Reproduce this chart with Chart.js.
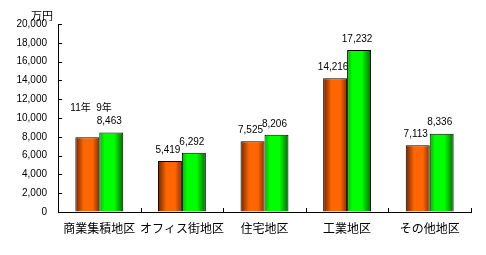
<!DOCTYPE html>
<html lang="ja">
<head>
  <meta charset="UTF-8" />
  <title>地区別</title>
  <script src="https://cdn.jsdelivr.net/npm/chart.js"></script>
  <style>
    html, body { margin: 0; padding: 0; background: #fff; }
    #wrap { width: 486px; height: 255px; }
  </style>
</head>
<body>
  <div id="wrap"><canvas id="grafico"></canvas></div>

  <script>
    const categorias = ['商業集積地区', 'オフィス街地区', '住宅地区', '工業地区', 'その他地区'];
    const series = ['11年', '9年'];
    const valores11 = [7950, 5419, 7525, 14216, 7113];
    const valores9 = [8463, 6292, 8206, 17232, 8336];
    const unidade = '万円';
    const fonteNum = "'Liberation Sans', 'Noto Sans CJK JP', sans-serif";
    const fonteJp = "'Noto Sans CJK JP', 'Liberation Sans', sans-serif";

    // gradient horizontal em cada barra
    function gradiente(ctx, x0, x1, stops) {
      const g = ctx.createLinearGradient(x0, 0, x1, 0);
      stops.forEach(s => g.addColorStop(s[0], s[1]));
      return g;
    }
    const paradasLaranja = [[0, '#6e2500'], [0.35, '#ff6600'], [0.72, '#ff6600'], [1, '#8a2e00']];
    const paradasVerde = [[0, '#00b400'], [0.22, '#00ff00'], [0.62, '#00ff00'], [1, '#006a00']];

    const pluginDesenho = {
      id: 'desenho',
      beforeDatasetsDraw(chart) {
        const ctx = chart.ctx;
        chart.data.datasets.forEach((ds, i) => {
          const paradas = i === 0 ? paradasLaranja : paradasVerde;
          chart.getDatasetMeta(i).data.forEach(el => {
            const x0 = el.x - el.width / 2, x1 = el.x + el.width / 2;
            el.options = Object.assign({}, el.options, { backgroundColor: gradiente(ctx, x0, x1, paradas) });
          });
        });
      },
      afterDraw(chart) {
        const ctx = chart.ctx;
        const y = chart.scales.y;
        const area = chart.chartArea;
        ctx.save();
        ctx.strokeStyle = '#000';
        ctx.lineWidth = 1;
        // marcas para dentro
        y.ticks.forEach(t => {
          const py = Math.round(y.getPixelForValue(t.value)) + 0.5;
          ctx.beginPath();
          ctx.moveTo(area.left, py);
          ctx.lineTo(area.left + 4, py);
          ctx.stroke();
        });
        for (let i = 1; i <= categorias.length; i++) {
          const px = Math.round(area.left + (area.right - area.left) * i / categorias.length) + 0.5;
          ctx.beginPath();
          ctx.moveTo(px, area.bottom);
          ctx.lineTo(px, area.bottom - 4);
          ctx.stroke();
        }
        // rótulos de valores
        ctx.fillStyle = '#000';
        ctx.font = '10px ' + fonteNum;
        ctx.textAlign = 'center';
        ctx.textBaseline = 'middle';
        chart.data.datasets.forEach((ds, i) => {
          chart.getDatasetMeta(i).data.forEach((el, j) => {
            if (i === 0 && j === 0) return;
            const txt = ds.data[j].toLocaleString('en-US');
            ctx.fillText(txt, el.x - 2, el.y - 11);
          });
        });
        // nomes das séries sobre o primeiro grupo
        const b0 = chart.getDatasetMeta(0).data[0];
        const b1 = chart.getDatasetMeta(1).data[0];
        ctx.textAlign = 'left';
        ctx.font = '10px ' + fonteNum;
        ctx.fillText(series[0], b0.x - b0.width / 2 - 5, b1.y - 24);
        ctx.fillText(series[1], b1.x - b1.width / 2 - 3, b1.y - 24);
        // unidade
        ctx.textAlign = 'center';
        ctx.font = '11px ' + fonteJp;
        ctx.fillText(unidade, 42, 16);
        ctx.restore();
      }
    };

    new Chart(document.getElementById('grafico'), {
      type: 'bar',
      data: {
        labels: categorias,
        datasets: [
          { label: series[0], data: valores11, borderColor: '#000', borderWidth: 1, borderSkipped: 'bottom' },
          { label: series[1], data: valores9, borderColor: '#000', borderWidth: 1, borderSkipped: 'bottom' }
        ]
      },
      options: {
        responsive: true,
        maintainAspectRatio: false,
        animation: false,
        categoryPercentage: 0.58,
        barPercentage: 1.0,
        layout: { padding: { left: 0, right: 15, top: 24, bottom: 0 } },
        plugins: { legend: { display: false }, tooltip: { enabled: false } },
        scales: {
          y: {
            min: 0, max: 20000,
            ticks: { stepSize: 2000, color: '#000', font: { family: fonteNum, size: 10 }, padding: 11 },
            grid: { drawOnChartArea: false, drawTicks: false },
            border: { color: '#000', width: 1 },
            afterFit(s) { s.width = 58; }
          },
          x: {
            ticks: { color: '#000', font: { family: fonteJp, size: 12 }, padding: 9, maxRotation: 0, minRotation: 0, autoSkip: false },
            grid: { display: false, drawTicks: false },
            border: { color: '#000', width: 1 },
            afterFit(s) { s.height = 43; }
          }
        }
      },
      plugins: [pluginDesenho]
    });
  </script>
</body>
</html>
